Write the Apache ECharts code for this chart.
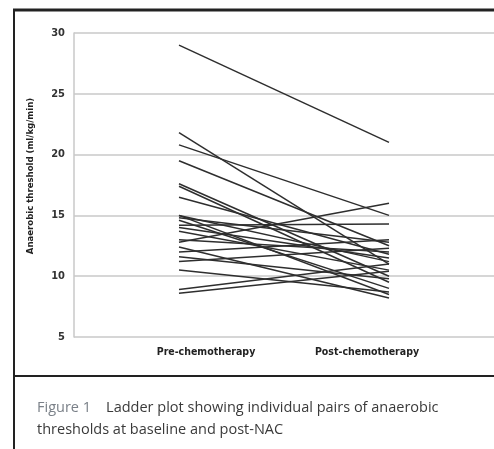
<!DOCTYPE html>
<html>
<head>
<meta charset="utf-8">
<script src="https://cdn.jsdelivr.net/npm/echarts@6/dist/echarts.min.js"></script>
<style>
html, body { margin: 0; padding: 0; background: #fff; }
#main { width: 494px; height: 449px; }
</style>
</head>
<body>
<div id="main"></div>
<script>
var categories = ['Pre-chemotherapy', 'Post-chemotherapy'];
var yTicks = [5, 10, 15, 20, 25, 30];
// anaerobic threshold per patient, baseline and post-NAC
var preValues  = [29.0, 21.8, 20.8, 19.5, 17.6, 17.4, 16.5, 15.0, 14.8, 14.6, 14.2, 14.0,
                  13.7, 12.8, 12.4, 12.0, 11.6, 11.2, 10.5, 8.9, 8.6, 13.0, 15.0];
var postValues = [21.0, 11.0, 15.0, 12.5, 10.0, 9.5, 11.8, 8.5, 12.8, 9.0, 14.3, 11.5,
                  10.5, 16.0, 8.2, 13.0, 9.8, 12.3, 8.7, 11.0, 10.4, 12.0, 11.2];

var chart = echarts.init(document.getElementById('main'));

var series = [];
for (var i = 0; i < preValues.length; i++) {
    series.push({
        type: 'line',
        data: [preValues[i], postValues[i]],
        symbol: 'none',
        lineStyle: { color: '#2e2e2e', width: 1.5 },
        silent: true
    });
}

option = {
    backgroundColor: '#fff',
    animation: false,
    title: {
        left: 32,
        top: 392,
        text: '{f|Figure 1}    Ladder plot showing individual pairs of anaerobic\nthresholds at baseline and post-NAC',
        textStyle: {
            fontFamily: 'Open Sans',
            fontSize: 14.5,
            fontWeight: 'normal',
            color: '#3a3a3a',
            lineHeight: 22,
            rich: {
                f: { color: '#7a8088', fontFamily: 'Open Sans', fontSize: 14.5 }
            }
        }
    },
    grid: { left: 74, right: 0, top: 33, bottom: 112 },
    xAxis: {
        type: 'category',
        data: categories,
        boundaryGap: true,
        axisLine: { show: false },
        axisTick: { show: false },
        axisLabel: {
            margin: 10,
            fontFamily: 'DejaVu Sans Condensed',
            fontSize: 10.5,
            fontWeight: 'bold',
            color: '#222',
            formatter: function (v, idx) {
                return idx === 0 ? '{a|' + v + '}' : '{b|' + v + '}';
            },
            rich: {
                a: { padding: [0, 0, 0, 54] },
                b: { padding: [0, 44, 0, 0] }
            }
        }
    },
    yAxis: {
        type: 'value',
        min: 5,
        max: 30,
        interval: 5,
        name: 'Anaerobic threshold (ml/kg/min)',
        nameLocation: 'middle',
        nameGap: 38,
        nameTextStyle: {
            fontFamily: 'DejaVu Sans Condensed',
            fontSize: 9.5,
            fontWeight: 'bold',
            color: '#222',
            padding: [0, 0, 0, 18]
        },
        axisLine: { show: true, lineStyle: { color: '#c8c8c8', width: 1.5 } },
        axisTick: { show: false },
        axisLabel: {
            margin: 9,
            fontFamily: 'DejaVu Sans Condensed',
            fontSize: 11,
            fontWeight: 'bold',
            color: '#333',
            formatter: function (v) { return yTicks.indexOf(v) >= 0 ? String(v) : ''; }
        },
        splitLine: { show: true, lineStyle: { color: '#c8c8c8', width: 1.5 } }
    },
    graphic: [
        { type: 'line', shape: { x1: 13, y1: 10, x2: 494, y2: 10 }, style: { stroke: '#222', lineWidth: 3 } },
        { type: 'line', shape: { x1: 14, y1: 9, x2: 14, y2: 449 }, style: { stroke: '#222', lineWidth: 2 } },
        { type: 'line', shape: { x1: 14, y1: 376, x2: 494, y2: 376 }, style: { stroke: '#222', lineWidth: 2 } }
    ],
    series: series
};
chart.setOption(option);
</script>
</body>
</html>
